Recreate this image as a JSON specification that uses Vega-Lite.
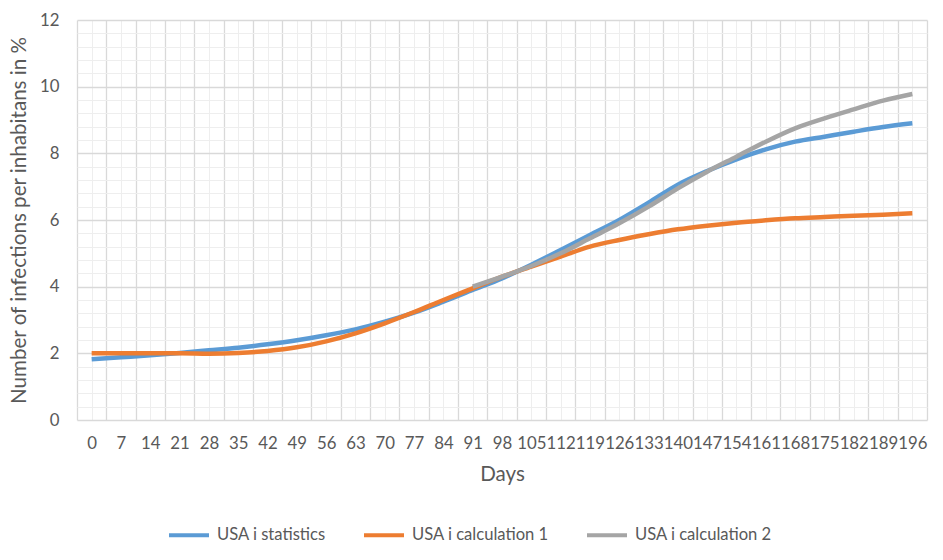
{
  "$schema": "https://vega.github.io/schema/vega-lite/v6.json",
  "width": 850,
  "height": 400,
  "autosize": {"type": "none"},
  "padding": {"left": 77, "top": 20, "right": 16, "bottom": 140},
  "background": "white",
  "config": {
    "font": "Lato, sans-serif",
    "view": {"stroke": null},
    "axis": {"labelColor": "#595959", "titleColor": "#595959", "labelFontSize": 16.8, "titleFontSize": 20.6, "titleFontWeight": "normal", "ticks": false, "domain": false}
  },
  "data": {
    "values": [
      {"day": 0, "series": "USA i statistics", "value": 1.82},
      {"day": 7, "series": "USA i statistics", "value": 1.88},
      {"day": 14, "series": "USA i statistics", "value": 1.94},
      {"day": 21, "series": "USA i statistics", "value": 2.01},
      {"day": 28, "series": "USA i statistics", "value": 2.09},
      {"day": 35, "series": "USA i statistics", "value": 2.17},
      {"day": 42, "series": "USA i statistics", "value": 2.27},
      {"day": 49, "series": "USA i statistics", "value": 2.39},
      {"day": 56, "series": "USA i statistics", "value": 2.54},
      {"day": 63, "series": "USA i statistics", "value": 2.72},
      {"day": 70, "series": "USA i statistics", "value": 2.95},
      {"day": 77, "series": "USA i statistics", "value": 3.22},
      {"day": 84, "series": "USA i statistics", "value": 3.55},
      {"day": 91, "series": "USA i statistics", "value": 3.9},
      {"day": 98, "series": "USA i statistics", "value": 4.25},
      {"day": 105, "series": "USA i statistics", "value": 4.66},
      {"day": 112, "series": "USA i statistics", "value": 5.1},
      {"day": 119, "series": "USA i statistics", "value": 5.55},
      {"day": 126, "series": "USA i statistics", "value": 6.0},
      {"day": 133, "series": "USA i statistics", "value": 6.52},
      {"day": 140, "series": "USA i statistics", "value": 7.06},
      {"day": 147, "series": "USA i statistics", "value": 7.47},
      {"day": 154, "series": "USA i statistics", "value": 7.82},
      {"day": 161, "series": "USA i statistics", "value": 8.12},
      {"day": 168, "series": "USA i statistics", "value": 8.35},
      {"day": 175, "series": "USA i statistics", "value": 8.5},
      {"day": 182, "series": "USA i statistics", "value": 8.65},
      {"day": 189, "series": "USA i statistics", "value": 8.79},
      {"day": 196, "series": "USA i statistics", "value": 8.9},
      {"day": 0, "series": "USA i calculation 1", "value": 2.0},
      {"day": 7, "series": "USA i calculation 1", "value": 2.0},
      {"day": 14, "series": "USA i calculation 1", "value": 2.0},
      {"day": 21, "series": "USA i calculation 1", "value": 2.0},
      {"day": 28, "series": "USA i calculation 1", "value": 1.99},
      {"day": 35, "series": "USA i calculation 1", "value": 2.01},
      {"day": 42, "series": "USA i calculation 1", "value": 2.07},
      {"day": 49, "series": "USA i calculation 1", "value": 2.18},
      {"day": 56, "series": "USA i calculation 1", "value": 2.36},
      {"day": 63, "series": "USA i calculation 1", "value": 2.6},
      {"day": 70, "series": "USA i calculation 1", "value": 2.9},
      {"day": 77, "series": "USA i calculation 1", "value": 3.24},
      {"day": 84, "series": "USA i calculation 1", "value": 3.6},
      {"day": 91, "series": "USA i calculation 1", "value": 3.95},
      {"day": 98, "series": "USA i calculation 1", "value": 4.3},
      {"day": 105, "series": "USA i calculation 1", "value": 4.6},
      {"day": 112, "series": "USA i calculation 1", "value": 4.9},
      {"day": 119, "series": "USA i calculation 1", "value": 5.2},
      {"day": 126, "series": "USA i calculation 1", "value": 5.4},
      {"day": 133, "series": "USA i calculation 1", "value": 5.57},
      {"day": 140, "series": "USA i calculation 1", "value": 5.72},
      {"day": 147, "series": "USA i calculation 1", "value": 5.83},
      {"day": 154, "series": "USA i calculation 1", "value": 5.92},
      {"day": 161, "series": "USA i calculation 1", "value": 5.99},
      {"day": 168, "series": "USA i calculation 1", "value": 6.05},
      {"day": 175, "series": "USA i calculation 1", "value": 6.09},
      {"day": 182, "series": "USA i calculation 1", "value": 6.13},
      {"day": 189, "series": "USA i calculation 1", "value": 6.16},
      {"day": 196, "series": "USA i calculation 1", "value": 6.2},
      {"day": 91, "series": "USA i calculation 2", "value": 4.0},
      {"day": 98, "series": "USA i calculation 2", "value": 4.3},
      {"day": 105, "series": "USA i calculation 2", "value": 4.62},
      {"day": 112, "series": "USA i calculation 2", "value": 5.0},
      {"day": 119, "series": "USA i calculation 2", "value": 5.45},
      {"day": 126, "series": "USA i calculation 2", "value": 5.9},
      {"day": 133, "series": "USA i calculation 2", "value": 6.4},
      {"day": 140, "series": "USA i calculation 2", "value": 6.95},
      {"day": 147, "series": "USA i calculation 2", "value": 7.45},
      {"day": 154, "series": "USA i calculation 2", "value": 7.9},
      {"day": 161, "series": "USA i calculation 2", "value": 8.35},
      {"day": 168, "series": "USA i calculation 2", "value": 8.75},
      {"day": 175, "series": "USA i calculation 2", "value": 9.05},
      {"day": 182, "series": "USA i calculation 2", "value": 9.32},
      {"day": 189, "series": "USA i calculation 2", "value": 9.58},
      {"day": 196, "series": "USA i calculation 2", "value": 9.78}
    ]
  },
  "resolve": {"axis": {"x": "independent", "y": "independent"}},
  "layer": [
    {
      "mark": {"type": "line", "strokeOpacity": 0},
      "encoding": {
        "x": {"field": "day", "type": "quantitative", "scale": {"domain": [-3.5, 199.5], "nice": false, "zero": false},
          "axis": {"orient": "top", "title": null, "labels": false, "grid": true, "gridColor": "#d9d9d9", "gridWidth": 1.3,
            "values": [-3.5, 3.5, 10.5, 17.5, 24.5, 31.5, 38.5, 45.5, 52.5, 59.5, 66.5, 73.5, 80.5, 87.5, 94.5, 101.5, 108.5, 115.5, 122.5, 129.5, 136.5, 143.5, 150.5, 157.5, 164.5, 171.5, 178.5, 185.5, 192.5, 199.5]}},
        "y": {"field": "value", "type": "quantitative", "scale": {"domain": [0, 12], "nice": false},
          "axis": {"orient": "right", "title": null, "labels": false, "grid": true, "gridColor": "#eeeeee", "gridWidth": 1,
            "values": [0.4, 0.8, 1.2, 1.6, 2.4, 2.8, 3.2, 3.6, 4.4, 4.8, 5.2, 5.6, 6.4, 6.8, 7.2, 7.6, 8.4, 8.8, 9.2, 9.6, 10.4, 10.8, 11.2, 11.6]}},
        "detail": {"field": "series"}
      }
    },
    {
      "mark": {"type": "line", "strokeWidth": 4.5, "interpolate": "monotone", "strokeCap": "butt"},
      "encoding": {
        "x": {"field": "day", "type": "quantitative",
          "axis": {"orient": "bottom", "title": "Days", "format": "d", "labelOverlap": false, "labelFlush": false, "labelPadding": 15, "titlePadding": 13,
            "grid": true, "gridColor": "#eeeeee", "gridWidth": 1,
            "values": [0, 7, 14, 21, 28, 35, 42, 49, 56, 63, 70, 77, 84, 91, 98, 105, 112, 119, 126, 133, 140, 147, 154, 161, 168, 175, 182, 189, 196]}},
        "y": {"field": "value", "type": "quantitative",
          "axis": {"orient": "left", "title": "Number of infections per inhabitans in %", "format": "d", "labelPadding": 18, "titlePadding": 10,
            "grid": true, "gridColor": "#d9d9d9", "gridWidth": 1.3, "values": [0, 2, 4, 6, 8, 10, 12]}},
        "color": {"field": "series", "type": "nominal",
          "scale": {"domain": ["USA i statistics", "USA i calculation 1", "USA i calculation 2"], "range": ["#5B9BD5", "#ED7D31", "#A5A5A5"]},
          "legend": {"orient": "none", "legendX": 90, "legendY": 493, "direction": "horizontal", "title": null, "symbolType": "stroke", "symbolSize": 1600, "symbolStrokeWidth": 4, "labelFontSize": 16.6, "labelColor": "#595959", "columnPadding": 30, "labelOffset": 6}},
        "order": {"field": "day", "type": "quantitative"}
      }
    }
  ]
}
